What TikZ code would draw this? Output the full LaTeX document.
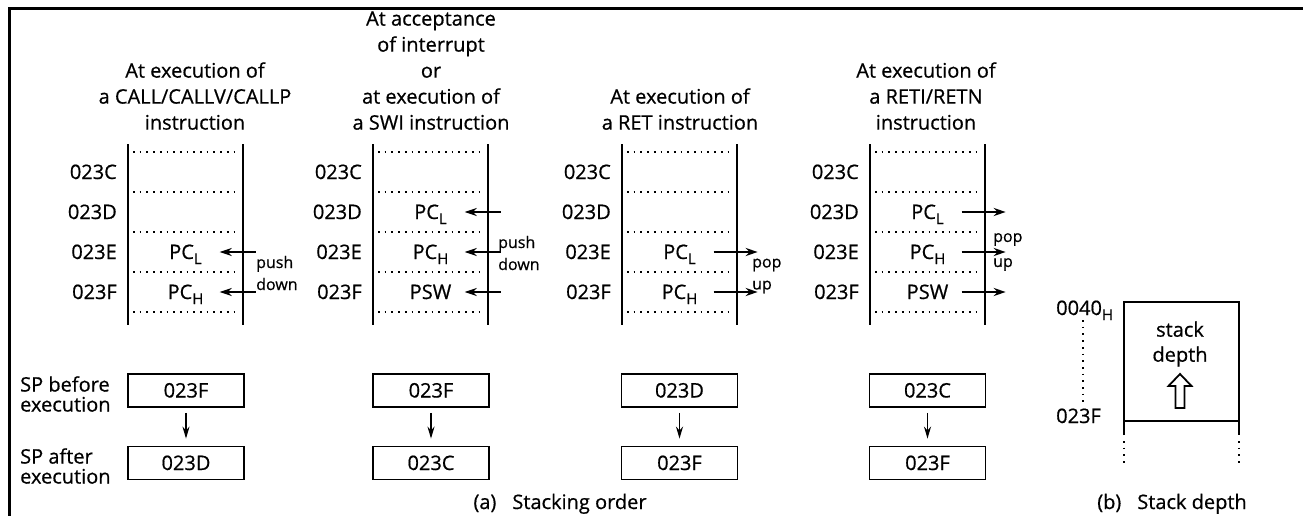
\documentclass[tikz,border=0pt]{standalone}
\usepackage{fontspec}
\setmainfont{Open Sans}[FakeBold=0.6]
\usetikzlibrary{arrows.meta}
\newcommand{\lo}[1]{\raisebox{-5pt}{\fontsize{15}{15}\selectfont #1}}

\begin{document}
\begin{tikzpicture}[x=1pt,y=-1pt]
  \tikzset{txt/.style = {font=\fontsize{20}{26}\selectfont,inner sep=0pt,text height=14pt,text depth=0pt}}
  \tikzset{title/.style = {font=\fontsize{20}{26}\selectfont,inner sep=0pt,align=center,anchor=south}}
  \tikzset{small/.style = {font=\fontsize{16}{22}\selectfont,inner sep=0pt,align=left,anchor=west}}
  \tikzset{cell/.style = {txt,minimum width=68pt}}
  \tikzset{spbox/.style = {txt,draw,line width=1.8pt,minimum width=116pt,minimum height=33pt}}
  \tikzset{wall/.style = {line width=2.2pt}}
  \tikzset{dots/.style = {line width=1.7pt,dash pattern=on 1.7pt off 5pt}}
  \tikzset{arr/.style = {line width=2pt,-{Stealth[length=12pt,width=8pt]}}}
  \tikzset{down/.style = {line width=1.8pt,-{Stealth[length=12pt,width=7pt]},shorten <=5pt,shorten >=7pt}}
  \useasboundingbox (0,0) rectangle (1303,516);
  \draw[line width=3pt] (9,516) -- (9,9) -- (1303,9);

  % stack columns
  \foreach \l/\n in {128/1,373/2,622/3,870/4} {
    \draw[wall] (\l,144) -- (\l,325) (\l+115,144) -- (\l+115,325);
    \foreach \y in {152,192,232,272,312}
      \draw[dots] (\l+5,\y) -- (\l+112,\y);
    \node[txt,anchor=east] (rc\n) at (\l-11,172) {023C};
    \node[txt,anchor=east] (rd\n) at (\l-11,212) {023D};
    \node[txt,anchor=east] (re\n) at (\l-11,252) {023E};
    \node[txt,anchor=east] (rf\n) at (\l-11,292) {023F};
  }

  \node[title] (t1) at (195,130) {At execution of\\a CALL/CALLV/CALLP\\instruction};
  \node[title] (t2) at (431,130) {At acceptance\\of interrupt\\or\\at execution of\\a SWI instruction};
  \node[title] (t3) at (680,130) {At execution of\\a RET instruction};
  \node[title] (t4) at (926,130) {At execution of\\a RETI/RETN\\instruction};

  % contents
  \node[cell] (e1) at (185.5,252) {PC\lo{L}};
  \node[cell] (f1) at (185.5,292) {PC\lo{H}};
  \node[cell] (d2) at (430.5,212) {PC\lo{L}};
  \node[cell] (e2) at (430.5,252) {PC\lo{H}};
  \node[cell] (f2) at (430.5,292) {PSW};
  \node[cell] (e3) at (679.5,252) {PC\lo{L}};
  \node[cell] (f3) at (679.5,292) {PC\lo{H}};
  \node[cell] (d4) at (927.5,212) {PC\lo{L}};
  \node[cell] (e4) at (927.5,252) {PC\lo{H}};
  \node[cell] (f4) at (927.5,292) {PSW};

  \foreach \c in {e1,f1,d2,e2,f2}
    \draw[arr] ([xshift=36pt]\c.east) -- (\c.east);
  \foreach \c in {e3,f3,d4,e4,f4}
    \draw[arr] (\c.east) -- ([xshift=44pt]\c.east);

  \node[small] (pd1) at (256,273) {push\\down};
  \node[small] (pd2) at (498,253) {push\\down};
  \node[small] (pu3) at (752,276) {pop\\up};
  \node[small,font=\fontsize{16}{25}\selectfont] (pu4) at (993,252) {pop\\up};

  % stack pointer
  \node[title,anchor=west,align=left,font=\fontsize{20}{20}\selectfont] (spb) at (20,394) {SP before\\execution};
  \node[title,anchor=west,align=left,font=\fontsize{20}{20}\selectfont] (spa) at (20,466) {SP after\\execution};
  \node[spbox] (b1) at (186,390.5) {023F};
  \node[spbox] (a1) at (186,463) {023D};
  \node[spbox] (b2) at (431,390.5) {023F};
  \node[spbox] (a2) at (431,463) {023C};
  \node[spbox] (b3) at (679.5,390.5) {023D};
  \node[spbox] (a3) at (679.5,463) {023F};
  \node[spbox] (b4) at (927.5,390.5) {023C};
  \node[spbox] (a4) at (927.5,463) {023F};
  \foreach \n in {1,2,3,4}
    \draw[down] (b\n.south) -- (a\n.north);

  \node[txt] (capa) at (560,502) {(a)\hspace{16pt}Stacking order};

  % stack depth
  \node[txt,anchor=west] (top) at (1056,308) {0040\lo{H}};
  \node[txt,anchor=west] (bot) at (1056,416) {023F};
  \draw[dots] (1083,320) -- (1083,404);
  \draw[wall] (1124,435) -- (1124,302) -- (1239,302) -- (1239,435);
  \draw[line width=1.8pt] (1124,421) -- (1239,421);
  \draw[dots] (1124,441) -- (1124,464) (1239,441) -- (1239,464);
  \node[title,anchor=center,font=\fontsize{20}{25}\selectfont] (sd) at (1180,344) {stack\\depth};
  \draw[line width=1.8pt] (1175.5,408) -- (1175.5,386) -- (1168.5,386) -- (1180,374)
    -- (1191.5,386) -- (1184.5,386) -- (1184.5,408) -- cycle;
  \node[txt] (capb) at (1172,502) {(b)\hspace{16pt}Stack depth};
\end{tikzpicture}
\end{document}
